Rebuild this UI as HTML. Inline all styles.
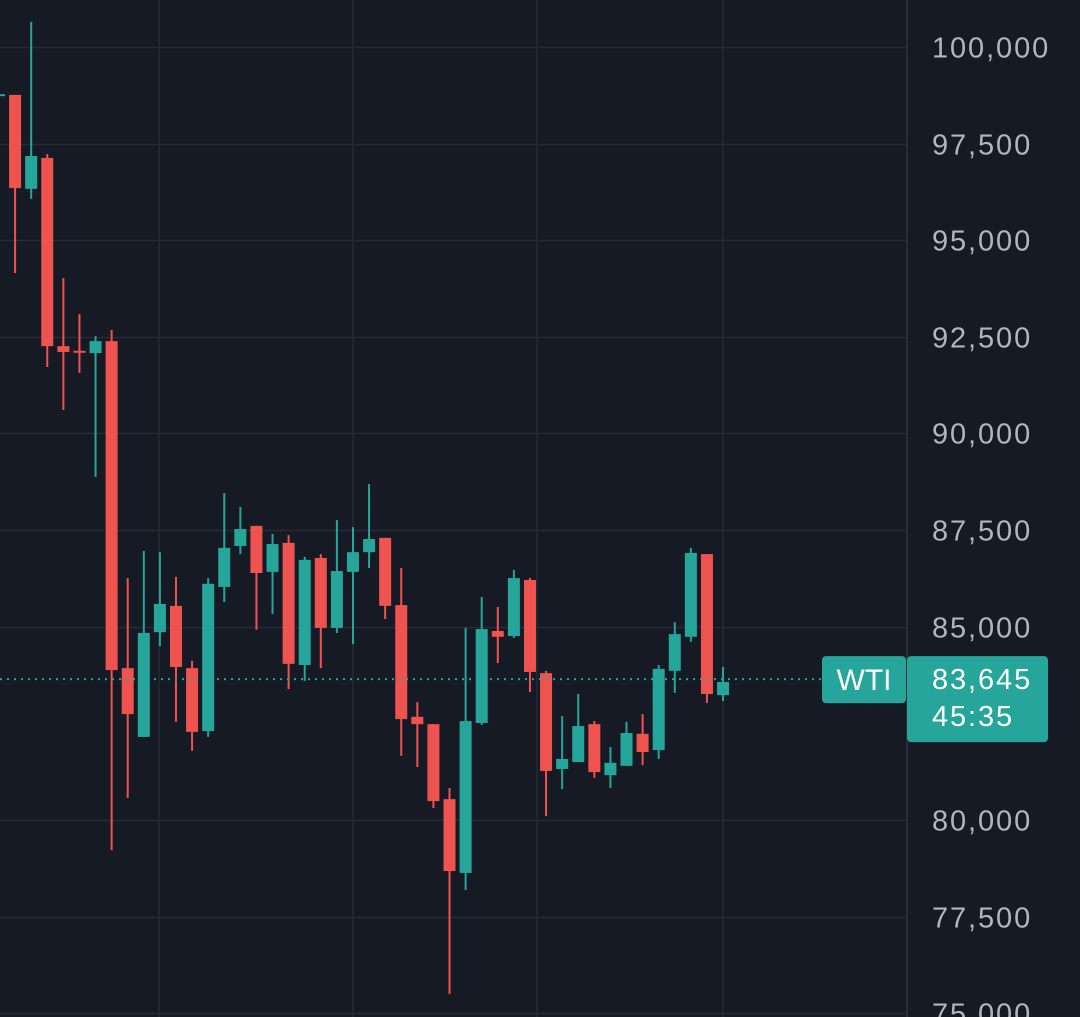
<!DOCTYPE html>
<html><head><meta charset="utf-8"><style>
html,body{margin:0;padding:0;background:#161a25;}
svg{display:block;font-family:"Liberation Sans",sans-serif;}
</style></head><body>
<svg id="chart" width="1080" height="1017" viewBox="0 0 1080 1017" xmlns="http://www.w3.org/2000/svg">
<rect x="0" y="0" width="1080" height="1017" fill="#161a25"/>
<g id="grid"></g>
<g id="candles"></g>
<g id="axis"></g>
</svg>
<script>
const opens  = [98730,98760,96330,97130,92260,92140,92080,92390,83930,82150,84860,85540,83930,82300,86030,87090,87610,86420,87170,84010,86780,84970,86420,86930,87300,85560,82670,82480,80540,78630,82510,84890,84760,86210,83800,81320,81500,82480,81160,81400,82230,81810,83860,84740,86880,83230];
const closes = [98780,96350,97180,92260,92110,92110,92390,83880,82740,84840,85590,83960,82280,86110,87040,87530,86390,87140,84040,86730,84970,86440,86930,87270,85540,82610,82480,80490,78680,82560,84940,84740,86260,83830,81270,81580,82430,81240,81480,82250,81760,83910,84810,86910,83260,83570];
const highs  = [98800,98760,100650,97230,94020,93090,92520,92680,86260,86960,86930,86290,84120,86260,88460,88100,87610,87400,87370,86810,86880,87760,87580,88690,87300,86520,83050,82480,80830,84970,85770,85510,86470,86260,83860,82690,83260,82560,81890,82540,82740,84010,85120,87040,86880,83960];
const lows   = [98730,94150,96070,91720,90610,91570,88880,79220,80570,82150,84500,82540,81790,82150,85640,86880,84920,85330,83390,83600,83930,84840,84550,86520,85200,81660,81370,80310,75500,78190,82460,84060,84710,83310,80100,80800,81500,81090,80830,81400,81420,81580,83290,84610,83030,83080];
const priceTicks = [100000,97500,95000,92500,90000,87500,85000,80000,77500,75000];
const lastPrice = 83645;
const countdown = "45:35";
const symbol = "WTI";

const NS = "http://www.w3.org/2000/svg";
const yScale = v => 47 + (100000 - v) * 0.03865;
const xScale = i => -1 + i * 16.09;
const plotRight = 907;
function mk(tag, attrs, parent){
  const e = document.createElementNS(NS, tag);
  for (const k in attrs) e.setAttribute(k, attrs[k]);
  parent.appendChild(e);
  return e;
}
const grid = document.getElementById('grid');
const axis = document.getElementById('axis');
const cg = document.getElementById('candles');
priceTicks.forEach(t => {
  const y = Math.round(yScale(t)) + 0.5;
  const l = mk('line', {x1:0, x2:plotRight, y1:y, y2:y, stroke:'#262a35', 'stroke-width':1.5}, grid);
  
  
  const tx = mk('text', {x:932, y:y + 10, fill:'#b2b5be', 'font-size':29, 'letter-spacing':1.9}, axis);
  
  
  tx.textContent = t.toLocaleString('en-US');
});
[159, 353, 537, 723].forEach(x => {
  const l = mk('line', {x1:x, x2:x, y1:0, y2:1017, stroke:'#262a35', 'stroke-width':1.5}, grid);
  
  
});
const sep = mk('line', {x1:plotRight, x2:plotRight, y1:0, y2:1017, stroke:'#2a2e39', 'stroke-width':2}, grid);



opens.forEach((o, i) => {
  const c = closes[i];
  const up = c >= o;
  const col = up ? '#26a69a' : '#ef5350';
  const x = xScale(i);
  const g = mk('g', {}, cg);
  
  
  mk('rect', {x:x - 1, y:yScale(highs[i]), width:2, height:Math.max(1, yScale(lows[i]) - yScale(highs[i])), fill:col}, g);
  const top = yScale(Math.max(o, c)), bot = yScale(Math.min(o, c));
  mk('rect', {x:x - 6, y:top, width:12, height:Math.max(2, bot - top), fill:col}, g);
});

const py = yScale(lastPrice);
const pl = mk('line', {x1:0, x2:plotRight, y1:py, y2:py, stroke:'#26a69a', 'stroke-width':2, 'stroke-dasharray':'2 5'}, axis);


const sb = mk('rect', {x:822, y:py - 23, width:84, height:47, rx:4, fill:'#26a69a'}, axis);


const st = mk('text', {x:864, y:py + 11, fill:'#ffffff', 'font-size':30, 'text-anchor':'middle'}, axis);


st.textContent = symbol;
const pb = mk('rect', {x:907, y:py - 23, width:141, height:86, rx:4, fill:'#26a69a'}, axis);


const pt = mk('text', {x:932, y:py + 10, fill:'#ffffff', 'font-size':29, 'letter-spacing':1.9}, axis);


pt.textContent = lastPrice.toLocaleString('en-US');
const ct = mk('text', {x:932, y:py + 47, fill:'#ffffff', 'font-size':29, 'letter-spacing':1.9}, axis);


ct.textContent = countdown;
</script>
</body></html>
